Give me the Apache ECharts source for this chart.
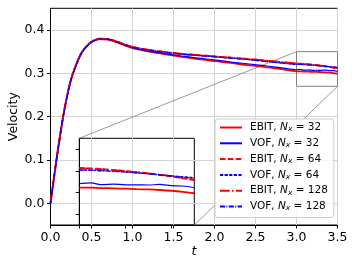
<!DOCTYPE html>
<html><head><meta charset="utf-8">
<script src="https://cdn.jsdelivr.net/npm/echarts@6/dist/echarts.min.js"></script>
<style>html,body{margin:0;padding:0;background:#fff}#c{width:357px;height:268px}</style>
</head><body><div id="c"></div>
<script>
// ---- data ----
const tValues = [0,0.05,0.1,0.15,0.2,0.25,0.3,0.35,0.4,0.5,0.6,0.7,0.8,0.9,1.0,1.2,1.4,1.6,1.8,2.0,2.2,2.4,2.6,2.8,3.0,3.05,3.1,3.15,3.2,3.25,3.3,3.35,3.4,3.45,3.5];
const ebit32  = [0,0.07,0.135,0.195,0.245,0.285,0.313,0.336,0.353,0.372,0.379,0.378,0.372,0.365,0.358,0.350,0.344,0.338,0.333,0.328,0.324,0.319,0.315,0.310,0.3045,0.3044,0.3041,0.3038,0.3035,0.3031,0.3028,0.3023,0.3016,0.3006,0.2993];
const vof32   = [0,0.07,0.135,0.195,0.245,0.285,0.313,0.336,0.353,0.372,0.379,0.378,0.373,0.366,0.359,0.351,0.345,0.340,0.335,0.331,0.326,0.322,0.318,0.313,0.3082,0.3088,0.3072,0.3078,0.3070,0.3071,0.3069,0.3074,0.3063,0.3060,0.3044];
const ebit64  = [0,0.07,0.136,0.196,0.246,0.286,0.314,0.337,0.354,0.373,0.380,0.379,0.374,0.367,0.361,0.354,0.349,0.345,0.342,0.339,0.336,0.333,0.330,0.326,0.3225,0.3222,0.3216,0.3207,0.3199,0.3187,0.3177,0.3162,0.3149,0.3131,0.3115];
const vof64   = [0,0.07,0.135,0.195,0.245,0.285,0.313,0.336,0.353,0.372,0.379,0.379,0.373,0.366,0.360,0.353,0.348,0.344,0.341,0.338,0.335,0.332,0.328,0.324,0.3205,0.3206,0.3199,0.3197,0.3189,0.3183,0.3172,0.3165,0.3153,0.3146,0.3137];
const ebit128 = [0,0.07,0.136,0.196,0.246,0.286,0.314,0.337,0.354,0.373,0.380,0.379,0.374,0.367,0.361,0.354,0.349,0.345,0.342,0.339,0.336,0.333,0.330,0.326,0.3228,0.3219,0.3214,0.3205,0.3197,0.3185,0.3176,0.3163,0.3151,0.3134,0.3120];
const vof128  = [0,0.07,0.135,0.195,0.245,0.285,0.313,0.336,0.353,0.372,0.379,0.379,0.373,0.366,0.360,0.353,0.348,0.344,0.341,0.338,0.335,0.332,0.328,0.324,0.3208,0.3205,0.3202,0.3194,0.3189,0.3179,0.3172,0.3161,0.3153,0.3141,0.3132];
const seriesNames = ['EBIT, N_x = 32','VOF, N_x = 32','EBIT, N_x = 64','VOF, N_x = 64','EBIT, N_x = 128','VOF, N_x = 128'];
const seriesValues = [ebit32, vof32, ebit64, vof64, ebit128, vof128];
const yTicks = [0.0,0.1,0.2,0.3,0.4];
const insetXTicks = [3.0,3.2,3.4];
const insetYTicks = [0.28,0.30,0.32,0.34];
const insetXRange = [3.0,3.5];
const insetYRange = [0.27,0.35];

// ---- styles ----
const lineStyles = [
  {color:'#ff0000', width:1.8, type:'solid'},
  {color:'#0000ff', width:1.2, type:'solid'},
  {color:'#ff0000', width:1.8, type:[5.5,2.4]},
  {color:'#0000ff', width:1.2, type:[3.2,1.4]},
  {color:'#ff0000', width:1.8, type:[9.6,2.4,1.5,2.4]},
  {color:'#0000ff', width:1.2, type:[5,1.4,1,1.4]}
];
const FONT = 'DejaVu Sans';

const chart = echarts.init(document.getElementById('c'), null, {renderer:'canvas'});
const series = [];
seriesNames.forEach((name, i) => {
  const pts = tValues.map((t, j) => [t, seriesValues[i][j]]);
  series.push({
    name, type:'line', xAxisIndex:0, yAxisIndex:0, data:pts,
    symbol:'none', showSymbol:false, smooth:0.3, animation:false,
    lineStyle:lineStyles[i], itemStyle:{color:lineStyles[i].color}, z:3
  });
});
seriesNames.forEach((name, i) => {
  const pts = tValues.map((t, j) => [t, seriesValues[i][j]]).filter(p => p[0] >= insetXRange[0]);
  series.push({
    name, type:'line', xAxisIndex:1, yAxisIndex:1, data:pts,
    symbol:'none', showSymbol:false, smooth:0.3, animation:false, clip:true,
    lineStyle:lineStyles[i], itemStyle:{color:lineStyles[i].color}, z:3
  });
});

const option = {
  animation:false,
  backgroundColor:'#ffffff',
  textStyle:{fontFamily:FONT},
  grid:[
    {left:50.5, top:8.3, width:287, height:216.7, show:true, borderColor:'#000', borderWidth:1, backgroundColor:'transparent', containLabel:false, outerBoundsMode:'none'},
    {left:79.3, top:138.3, width:115, height:86.7, show:true, borderColor:'#000', borderWidth:1, backgroundColor:'transparent', containLabel:false, outerBoundsMode:'none'}
  ],
  xAxis:[
    {type:'value', gridIndex:0, min:0, max:3.5, interval:0.5,
     name:'t', nameLocation:'middle', nameGap:20, nameMoveOverlap:false,
     nameTextStyle:{fontFamily:FONT, fontSize:12.5, fontStyle:'italic', color:'#000'},
     axisLine:{show:true, onZero:false, lineStyle:{color:'#000', width:1}},
     axisTick:{show:true, inside:false, length:3.5, lineStyle:{color:'#000'}},
     axisLabel:{show:true, fontFamily:FONT, fontSize:12.5, color:'#000', margin:6, formatter:v=>v.toFixed(1)},
     splitLine:{show:true, lineStyle:{color:'#d3d3d3', width:1}}},
    {type:'value', gridIndex:1, min:insetXRange[0], max:insetXRange[1],
     axisLine:{show:true, onZero:false, lineStyle:{color:'#000', width:1}},
     axisTick:{show:true, inside:false, length:3.5, lineStyle:{color:'#000'}, customValues:insetXTicks},
     axisLabel:{show:false, customValues:insetXTicks},
     splitLine:{show:false}}
  ],
  yAxis:[
    {type:'value', gridIndex:0, min:-0.05, max:0.45,
     name:'Velocity', nameLocation:'middle', nameGap:30, nameRotate:90, nameMoveOverlap:false,
     nameTextStyle:{fontFamily:FONT, fontSize:12.5, color:'#000'},
     axisLine:{show:true, onZero:false, lineStyle:{color:'#000', width:1}},
     axisTick:{show:true, inside:false, length:3.5, lineStyle:{color:'#000'}, customValues:yTicks},
     axisLabel:{show:true, fontFamily:FONT, fontSize:12.5, color:'#000', margin:6, customValues:yTicks, formatter:v=>v.toFixed(1)},
     splitLine:{show:true, lineStyle:{color:'#d3d3d3', width:1}}},
    {type:'value', gridIndex:1, min:insetYRange[0], max:insetYRange[1],
     axisLine:{show:true, onZero:false, lineStyle:{color:'#000', width:1}},
     axisTick:{show:true, inside:false, length:3.5, lineStyle:{color:'#000'}, customValues:insetYTicks},
     axisLabel:{show:false, customValues:insetYTicks},
     splitLine:{show:false}}
  ],
  legend:{
    data:seriesNames, orient:'vertical', left:215, top:119,
    itemWidth:22, itemHeight:12, itemGap:4.3,
    padding:[3,6,5,4],
    borderColor:'#cccccc', borderWidth:1, borderRadius:3,
    backgroundColor:'rgba(255,255,255,0.8)',
    selectedMode:false,
    itemStyle:{color:'transparent', borderWidth:0, opacity:0},
    formatter:function(name){
      const method = name.split(',')[0];
      const res = name.split('= ')[1];
      return '{n|' + method + ', }{it|N}{sub|x}{n| = ' + res + '}';
    },
    textStyle:{fontFamily:FONT, fontSize:10.5, color:'#000', padding:[0,0,0,3],
      rich:{
        n:{fontFamily:FONT, fontSize:10.5, color:'#000', lineHeight:12},
        it:{fontFamily:FONT, fontSize:10.5, fontStyle:'italic', color:'#000', lineHeight:12},
        sub:{fontFamily:FONT, fontSize:7.5, fontStyle:'italic', color:'#000', lineHeight:5, verticalAlign:'bottom'}
      }}
  },
  series
};
chart.setOption(option);

// inset indicator rectangle and connector lines (positions from the axes' own scales)
const rTL = chart.convertToPixel({xAxisIndex:0, yAxisIndex:0}, [insetXRange[0], insetYRange[1]]);
const rBR = chart.convertToPixel({xAxisIndex:0, yAxisIndex:0}, [insetXRange[1], insetYRange[0]]);
const iTL = chart.convertToPixel({xAxisIndex:1, yAxisIndex:1}, [insetXRange[0], insetYRange[1]]);
const iBR = chart.convertToPixel({xAxisIndex:1, yAxisIndex:1}, [insetXRange[1], insetYRange[0]]);
const gray = '#808080';
chart.setOption({graphic:[
  {type:'rect', z:2, shape:{x:rTL[0], y:rTL[1], width:rBR[0]-rTL[0], height:rBR[1]-rTL[1]}, style:{fill:'none', stroke:gray, lineWidth:1}, silent:true},
  {type:'line', z:2, shape:{x1:iTL[0], y1:iTL[1], x2:rTL[0], y2:rTL[1]}, style:{stroke:gray, lineWidth:0.8}, silent:true},
  {type:'line', z:2, shape:{x1:iBR[0], y1:iBR[1], x2:rBR[0], y2:rBR[1]}, style:{stroke:gray, lineWidth:0.8}, silent:true}
]});
</script>
</body></html>
